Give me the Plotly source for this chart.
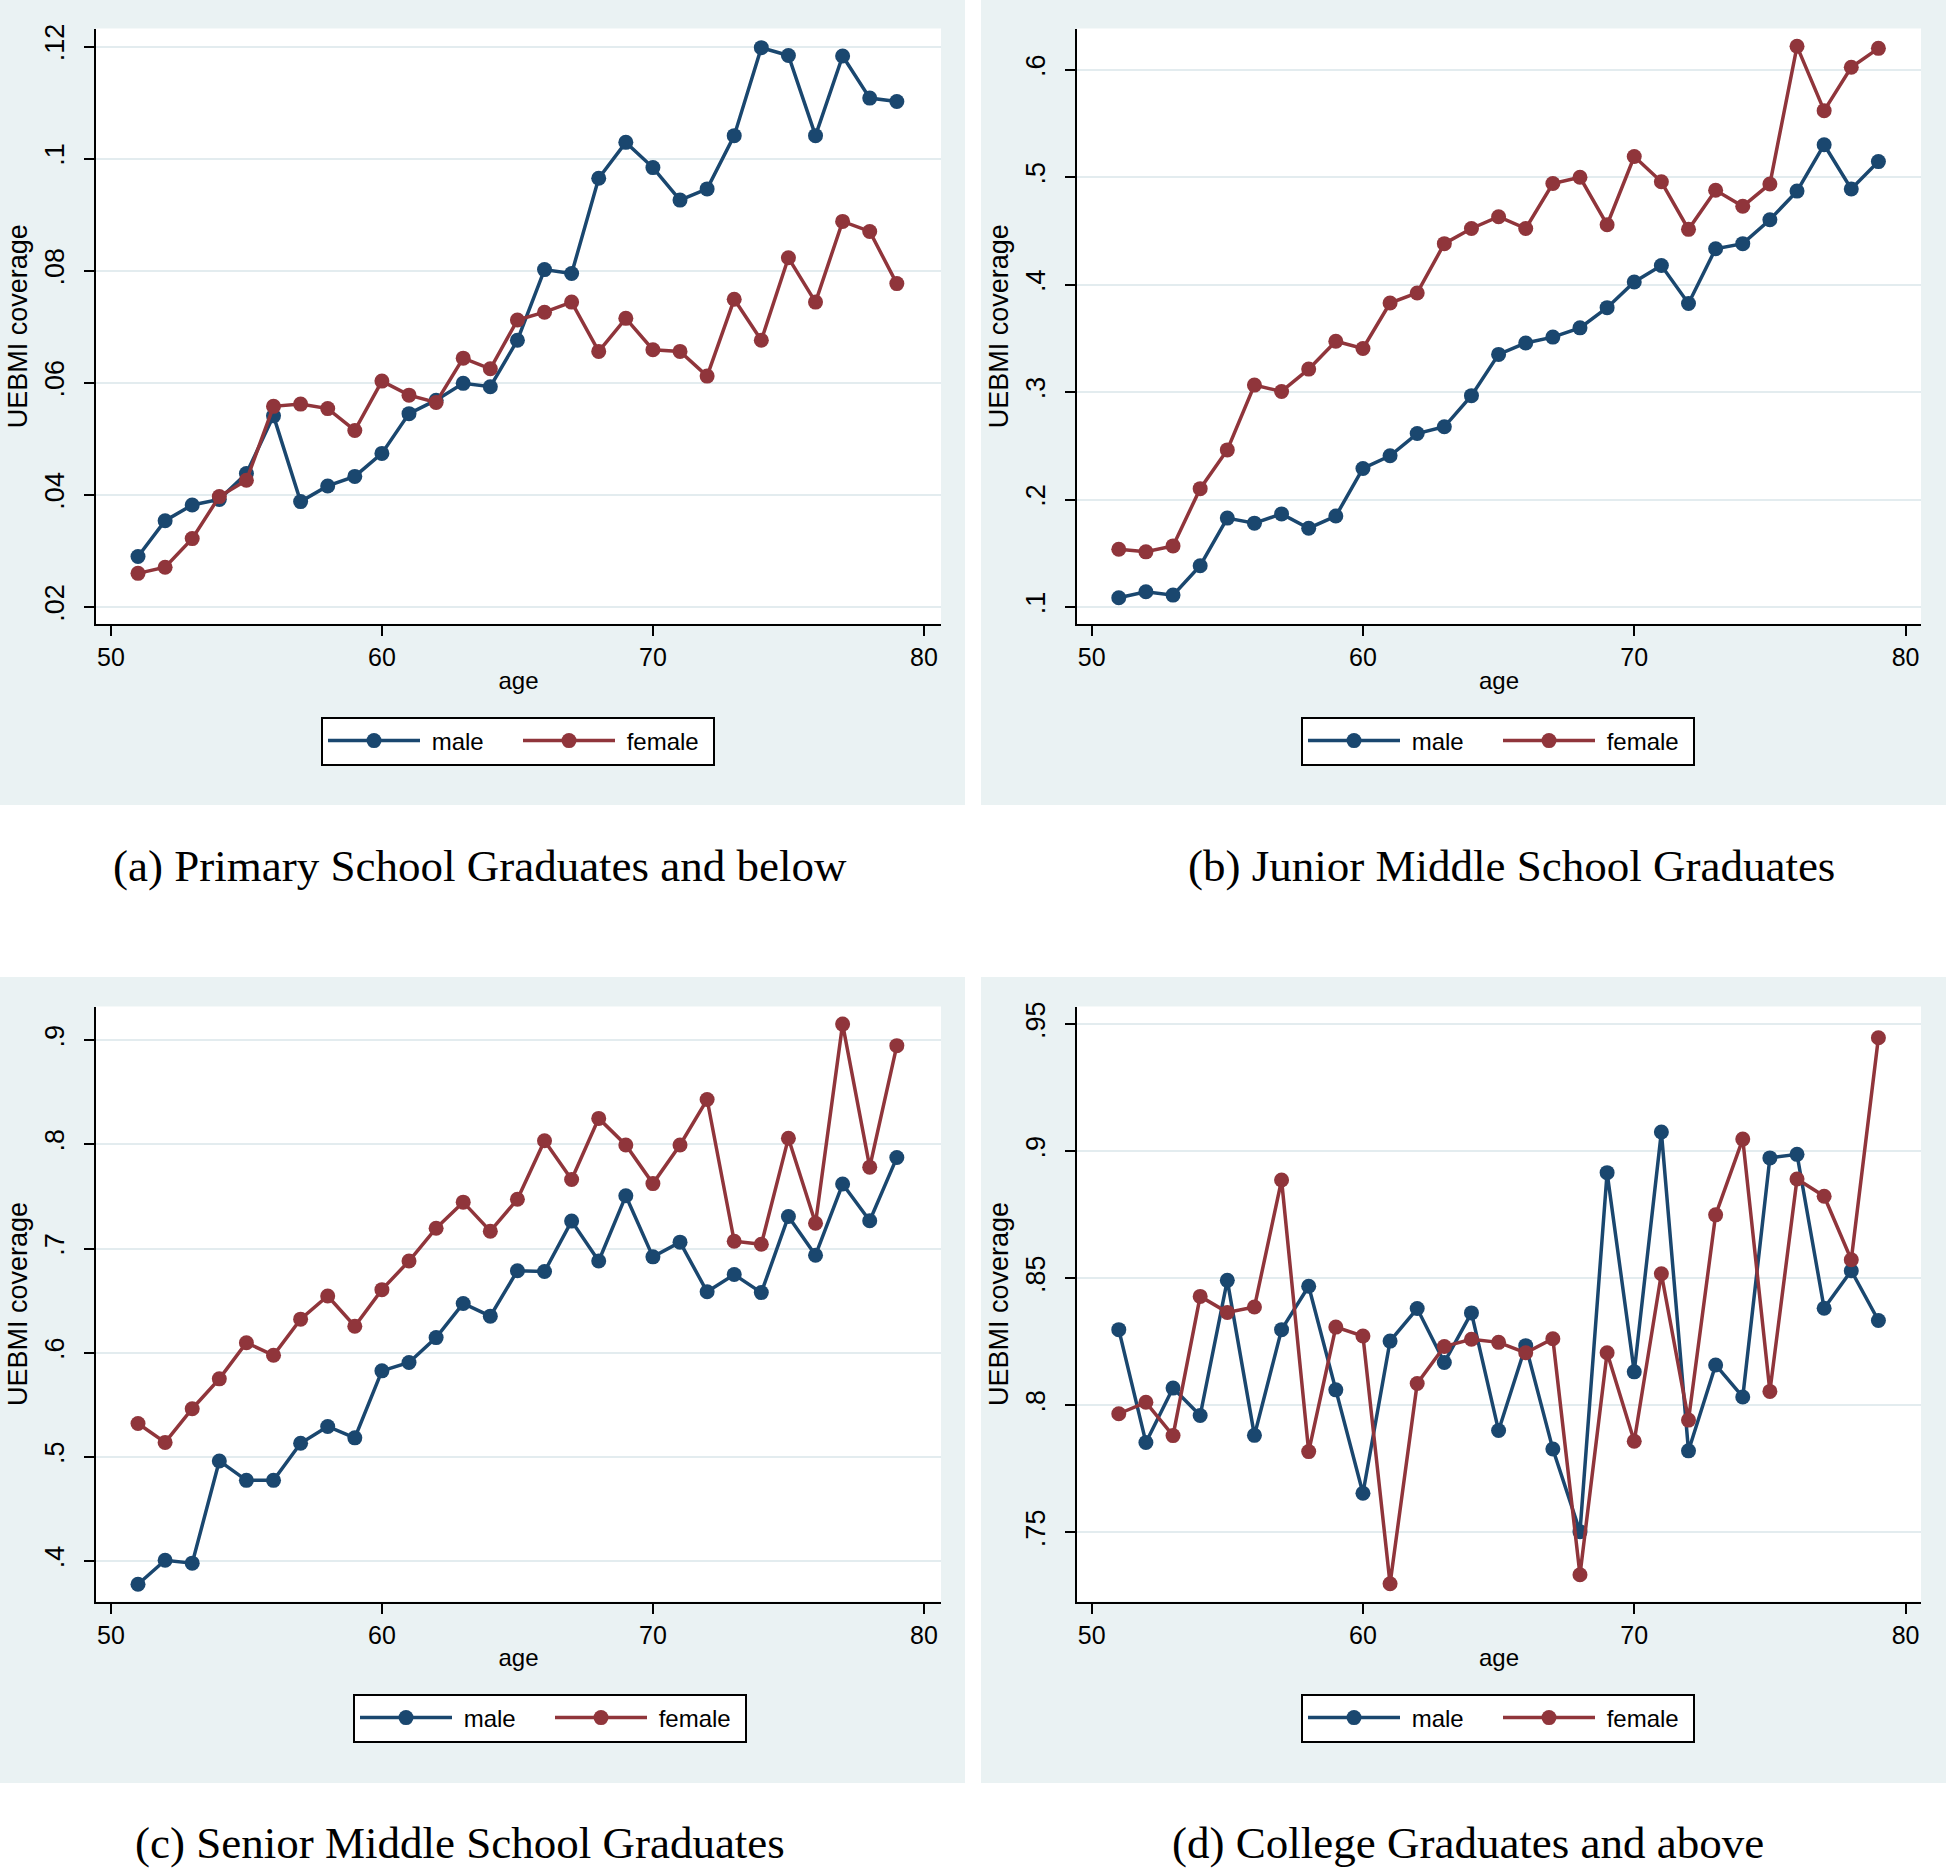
import plotly.graph_objects as go

W, H = 1946, 1869

ages = [51, 52, 53, 54, 55, 56, 57, 58, 59, 60, 61, 62, 63, 64, 65,
        66, 67, 68, 69, 70, 71, 72, 73, 74, 75, 76, 77, 78, 79]

primary_male = [0.0290, 0.0354, 0.0382, 0.0392, 0.0438, 0.0541, 0.0388, 0.0416, 0.0433, 0.0474,
                0.0545, 0.0569, 0.0599, 0.0593, 0.0676, 0.0802, 0.0795, 0.0965, 0.1029, 0.0984,
                0.0926, 0.0946, 0.1041, 0.1198, 0.1184, 0.1041, 0.1183, 0.1108, 0.1102]
primary_female = [0.0260, 0.0271, 0.0322, 0.0397, 0.0426, 0.0558, 0.0562, 0.0554, 0.0515, 0.0603,
                  0.0578, 0.0565, 0.0644, 0.0625, 0.0712, 0.0726, 0.0744, 0.0656, 0.0715, 0.0659,
                  0.0656, 0.0612, 0.0749, 0.0676, 0.0823, 0.0744, 0.0888, 0.0870, 0.0777]

junior_male = [0.1086, 0.1141, 0.1110, 0.1384, 0.1827, 0.1780, 0.1866, 0.1733, 0.1846, 0.2289,
               0.2407, 0.2614, 0.2677, 0.2967, 0.3351, 0.3457, 0.3512, 0.3598, 0.3786, 0.4025,
               0.4178, 0.3825, 0.4335, 0.4382, 0.4605, 0.4871, 0.5303, 0.4891, 0.5146]
junior_female = [0.1537, 0.1513, 0.1568, 0.2101, 0.2462, 0.3065, 0.3006, 0.3214, 0.3473, 0.3406,
                 0.3829, 0.3923, 0.4382, 0.4523, 0.4633, 0.4523, 0.4942, 0.5000, 0.4558, 0.5193,
                 0.4958, 0.4515, 0.4879, 0.4730, 0.4938, 0.6219, 0.5620, 0.6024, 0.6200]

senior_male = [0.3778, 0.4008, 0.3980, 0.4961, 0.4775, 0.4775, 0.5131, 0.5292, 0.5183, 0.5826,
               0.5906, 0.6145, 0.6472, 0.6351, 0.6787, 0.6779, 0.7263, 0.6880, 0.7506, 0.6920,
               0.7061, 0.6585, 0.6750, 0.6577, 0.7308, 0.6936, 0.7619, 0.7267, 0.7873]
senior_female = [0.5321, 0.5139, 0.5462, 0.5749, 0.6096, 0.5975, 0.6322, 0.6544, 0.6254, 0.6605,
                 0.6880, 0.7195, 0.7445, 0.7166, 0.7473, 0.8035, 0.7663, 0.8249, 0.7994, 0.7623,
                 0.7994, 0.8430, 0.7070, 0.7041, 0.8059, 0.7243, 0.9154, 0.7781, 0.8947]

college_male = [0.8298, 0.7854, 0.8068, 0.7960, 0.8492, 0.7882, 0.8298, 0.8469, 0.8061, 0.7654,
                0.8253, 0.8381, 0.8169, 0.8364, 0.7901, 0.8235, 0.7828, 0.7503, 0.8916, 0.8132,
                0.9076, 0.7821, 0.8159, 0.8033, 0.8974, 0.8988, 0.8382, 0.8530, 0.8334]
college_female = [0.7967, 0.8012, 0.7881, 0.8429, 0.8366, 0.8387, 0.8887, 0.7818, 0.8308, 0.8273,
                  0.7298, 0.8086, 0.8232, 0.8260, 0.8248, 0.8207, 0.8262, 0.7333, 0.8207, 0.7859,
                  0.8518, 0.7942, 0.8750, 0.9048, 0.8055, 0.8891, 0.8823, 0.8573, 0.9447]

panel_titles = ["(a) Primary School Graduates and below",
                "(b) Junior Middle School Graduates",
                "(c) Senior Middle School Graduates",
                "(d) College Graduates and above"]

series_names = ["male", "female"]
x_title = "age"
y_title = "UEBMI coverage"

x_tick_vals = [50, 60, 70, 80]
x_tick_text = ["50", "60", "70", "80"]

a_tick_vals = [0.02, 0.04, 0.06, 0.08, 0.10, 0.12]
a_tick_text = [".02", ".04", ".06", ".08", ".1", ".12"]
b_tick_vals = [0.1, 0.2, 0.3, 0.4, 0.5, 0.6]
b_tick_text = [".1", ".2", ".3", ".4", ".5", ".6"]
c_tick_vals = [0.4, 0.5, 0.6, 0.7, 0.8, 0.9]
c_tick_text = [".4", ".5", ".6", ".7", ".8", ".9"]
d_tick_vals = [0.75, 0.80, 0.85, 0.90, 0.95]
d_tick_text = [".75", ".8", ".85", ".9", ".95"]

# ---------------- styling / layout ----------------
MALE_COLOR = "#1A476F"
FEMALE_COLOR = "#90353B"
BG = "#EAF2F3"
GRID = "#E3ECEF"
SANS = "Liberation Sans, Arial, sans-serif"
SERIF = "Liberation Serif, Times New Roman, serif"
LEG_PAD = "\u00a0"  # small visual gap between legend key and label

panels = [
    dict(m=primary_male, f=primary_female, tv=a_tick_vals, tt=a_tick_text,
         box=(96, 941, 28.6, 623.8), xr=[49.45, 80.63], yr=[0.017, 0.1232],
         bg=(0, 965, 0, 805), leg=(518, 741), title=(480, 866)),
    dict(m=junior_male, f=junior_female, tv=b_tick_vals, tt=b_tick_text,
         box=(1077, 1921, 28.6, 623.8), xr=[49.46, 80.57], yr=[0.0843, 0.6384],
         bg=(981, 1946, 0, 805), leg=(1498, 741), title=(1511, 866)),
    dict(m=senior_male, f=senior_female, tv=c_tick_vals, tt=c_tick_text,
         box=(96, 941, 1006.5, 1601.5), xr=[49.45, 80.63], yr=[0.3612, 0.9323],
         bg=(0, 965, 977, 1783), leg=(550, 1718), title=(460, 1843)),
    dict(m=college_male, f=college_female, tv=d_tick_vals, tt=d_tick_text,
         box=(1077, 1921, 1006.5, 1601.5), xr=[49.46, 80.57], yr=[0.7228, 0.957],
         bg=(981, 1946, 977, 1783), leg=(1498, 1718), title=(1468, 1843)),
]

fig = go.Figure()
shapes = []
annotations = []
layout = dict(
    width=W, height=H,
    margin=dict(l=0, r=0, t=0, b=0),
    paper_bgcolor="white",
    plot_bgcolor="white",
    font=dict(family=SANS, color="black", size=25),
)

# panel (graph region) backgrounds first
for p in panels:
    bx0, bx1, by0, by1 = p["bg"]
    shapes.append(dict(type="rect", xref="paper", yref="paper",
                       x0=bx0 / W, x1=bx1 / W, y0=1 - by1 / H, y1=1 - by0 / H,
                       fillcolor=BG, line=dict(width=0), layer="below"))

for i, p in enumerate(panels):
    n = "" if i == 0 else str(i + 1)
    xa, ya = "x" + n, "y" + n
    legname = "legend" + n
    x0, x1, y0, y1 = p["box"]
    for name, vals, col in [(series_names[0], p["m"], MALE_COLOR),
                            (series_names[1], p["f"], FEMALE_COLOR)]:
        fig.add_trace(go.Scatter(
            x=ages, y=vals, name=LEG_PAD + name, mode="lines+markers",
            line=dict(color=col, width=3.5),
            marker=dict(color=col, size=15, line=dict(width=0)),
            xaxis=xa, yaxis=ya, legend=legname, showlegend=True,
            hoverinfo="x+y",
        ))
    # white plot region
    shapes.append(dict(type="rect", xref=xa + " domain", yref=ya + " domain",
                       x0=0, x1=1, y0=0, y1=1,
                       fillcolor="white", line=dict(width=0), layer="below"))
    layout["xaxis" + n] = dict(
        domain=[x0 / W, x1 / W], anchor=ya, range=p["xr"],
        tickmode="array", tickvals=x_tick_vals, ticktext=x_tick_text,
        showgrid=False, zeroline=False,
        showline=True, linecolor="black", linewidth=2,
        ticks="outside", ticklen=10, tickwidth=2, tickcolor="black",
        tickfont=dict(family=SANS, size=25, color="black"),
        title=dict(text=x_title, font=dict(family=SANS, size=24, color="black"), standoff=2),
        automargin=False,
    )
    layout["yaxis" + n] = dict(
        domain=[1 - y1 / H, 1 - y0 / H], anchor=xa, range=p["yr"],
        tickmode="array", tickvals=p["tv"], ticktext=p["tt"], tickangle=-90,
        ticklabelstandoff=9,
        showgrid=True, gridcolor=GRID, gridwidth=2, zeroline=False,
        showline=True, linecolor="black", linewidth=2,
        ticks="outside", ticklen=10, tickwidth=2, tickcolor="black",
        tickfont=dict(family=SANS, size=27, color="black"),
        title=dict(text=y_title, font=dict(family=SANS, size=27, color="black"), standoff=5),
        automargin=False,
    )
    lx, ly = p["leg"]
    layout[legname] = dict(
        x=lx / W, y=1 - ly / H, xanchor="center", yanchor="middle",
        orientation="h", bgcolor="white", bordercolor="black", borderwidth=2,
        font=dict(family=SANS, size=24, color="black"),
        itemwidth=92, entrywidth=88, itemclick=False, itemdoubleclick=False,
    )
    tx, ty = p["title"]
    annotations.append(dict(text=panel_titles[i], xref="paper", yref="paper",
                            x=tx / W, y=1 - ty / H, xanchor="center", yanchor="middle",
                            showarrow=False,
                            font=dict(family=SERIF, size=45, color="black")))

layout["shapes"] = shapes
layout["annotations"] = annotations
fig.update_layout(**layout)
fig.write_html("out.html",
               config={"displayModeBar": False},
               post_script="document.body.style.margin='0';document.body.style.overflow='hidden';")
